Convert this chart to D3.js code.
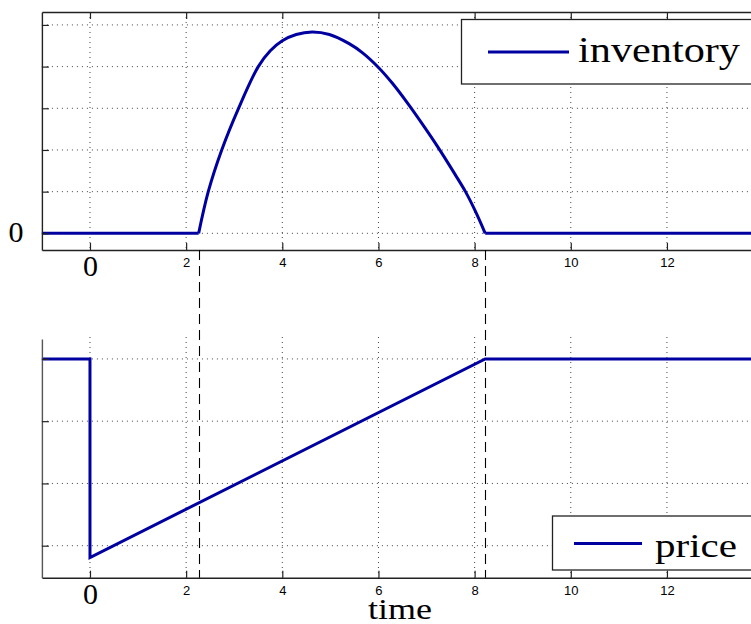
<!DOCTYPE html>
<html>
<head>
<meta charset="utf-8">
<script src="https://cdn.jsdelivr.net/npm/d3@7"></script>
<style>
  body { margin: 0; background: #fff; overflow: hidden; }
  svg { display: block; }
</style>
</head>
<body>
<div id="chart-area"></div>
<script>
// data
const invTime  = [2.26, 2.46, 2.74, 3.09, 3.50, 3.75, 4.0, 4.29, 4.62, 4.98, 5.39, 5.67, 6.0, 6.29, 6.62, 6.95, 7.23, 7.59, 7.81, 8.02, 8.22];
const invValue = [0, 1.0, 2.0, 3.0, 4.0, 4.38, 4.62, 4.77, 4.83, 4.77, 4.55, 4.33, 3.98, 3.60, 3.10, 2.56, 2.08, 1.42, 1.0, 0.52, 0];
const invFlatTime  = [-1, 2.26, 8.22, 14];
const invFlatValue = [0, 0, 0, 0];
const priceTime  = [-1, 0, 0, 8.22, 14];
const priceValue = [4, 4, 0.81, 4, 4];
const switchTimes = [2.26, 8.22];
const xTicks = [0, 2, 4, 6, 8, 10, 12];
const invTicks = [0, 1, 2, 3, 4, 5];
const priceTicks = [1, 2, 3, 4];
const seriesNames = ["inventory", "price"];

const W = 751, H = 624;
const blue = "#0000a0", ink = "#222";

const svg = d3.select("#chart-area")
  .append("svg")
    .attr("width", W)
    .attr("height", H);

const x = d3.scaleLinear().domain([-1, 14]).range([41.9, 763.1]);
const yInv = d3.scaleLinear().domain([-0.4, 5.31]).range([250, 12]);
const yPrice = d3.scaleLinear().domain([0.486, 4.32]).range([577.7, 339]);

function grid(g, y, yTicks, y0, y1) {
  g.selectAll(".gx").data(xTicks).enter().append("line")
    .attr("x1", d => x(d)).attr("x2", d => x(d))
    .attr("y1", y0).attr("y2", y1)
    .attr("stroke", "#444").attr("stroke-width", 1)
    .attr("stroke-dasharray", "1,4");
  g.selectAll(".gy").data(yTicks).enter().append("line")
    .attr("x1", x.range()[0]).attr("x2", x.range()[1])
    .attr("y1", d => y(d)).attr("y2", d => y(d))
    .attr("stroke", "#444").attr("stroke-width", 1)
    .attr("stroke-dasharray", "1,4");
}

function styleAxis(g) {
  g.selectAll("path.domain").attr("stroke", ink).attr("stroke-width", 1.4);
  g.selectAll(".tick line").attr("stroke", ink).attr("stroke-width", 1.2);
}

function xAxisBottom(yPos) {
  const g = svg.append("g")
    .attr("transform", `translate(0,${yPos})`)
    .call(d3.axisBottom(x).tickValues(xTicks).tickSizeInner(-7).tickSizeOuter(0).tickPadding(8));
  styleAxis(g);
  g.selectAll(".tick text")
    .attr("font-family", "'Liberation Sans', Arial, sans-serif")
    .attr("font-size", 13)
    .attr("fill", "#000")
    .attr("dy", "0.71em");
  // the zero label is set in the big serif face
  g.selectAll(".tick text").filter(d => d === 0)
    .attr("font-family", "'Liberation Serif', 'DejaVu Serif', serif")
    .attr("font-size", 30)
    .attr("dy", "0.66em")
    .attr("y", 6);
  return g;
}

// ---- top panel: inventory
const topPanel = svg.append("g");
grid(topPanel, yInv, invTicks, 12, 250);

const lineInv = d3.line().x((d, i) => x(invTime[i])).y(d => yInv(d)).curve(d3.curveCatmullRom.alpha(0.5));
topPanel.append("path").datum([invFlatValue[0], invFlatValue[1]])
  .attr("d", d3.line().x((d, i) => x(invFlatTime[i])).y(d => yInv(d)))
  .attr("fill", "none").attr("stroke", blue).attr("stroke-width", 3);
topPanel.append("path").datum([invFlatValue[2], invFlatValue[3]])
  .attr("d", d3.line().x((d, i) => x(invFlatTime[i + 2])).y(d => yInv(d)))
  .attr("fill", "none").attr("stroke", blue).attr("stroke-width", 3);
topPanel.append("path").datum(invValue)
  .attr("d", lineInv)
  .attr("fill", "none").attr("stroke", blue).attr("stroke-width", 3)
  .attr("stroke-linejoin", "round");

// box: top and bottom axes, left axis
const gTop = svg.append("g").attr("transform", "translate(0,12)")
  .call(d3.axisBottom(x).tickValues(xTicks).tickSizeInner(7).tickSizeOuter(0).tickFormat(""));
styleAxis(gTop);
xAxisBottom(250);
const gL1 = svg.append("g").attr("transform", `translate(${x(-1)},0)`)
  .call(d3.axisRight(yInv).tickValues(invTicks).tickSizeInner(7).tickSizeOuter(0).tickFormat(""));
styleAxis(gL1);
svg.append("text")
  .attr("x", 16).attr("y", 242)
  .attr("text-anchor", "middle")
  .attr("font-family", "'Liberation Serif', 'DejaVu Serif', serif")
  .attr("font-size", 30)
  .text("0");

// legend top
svg.append("rect").attr("x", 461.5).attr("y", 19.5).attr("width", 300).attr("height", 64.5)
  .attr("fill", "#fff").attr("stroke", ink).attr("stroke-width", 1.3);
svg.append("line").attr("x1", 488).attr("x2", 569).attr("y1", 52).attr("y2", 52)
  .attr("stroke", blue).attr("stroke-width", 3);
svg.append("text").attr("x", 578).attr("y", 61.5)
  .attr("font-family", "'Liberation Serif', 'DejaVu Serif', serif")
  .attr("font-size", 35)
  .attr("textLength", 162).attr("lengthAdjust", "spacingAndGlyphs")
  .text(seriesNames[0]);

// ---- bottom panel: price
const botPanel = svg.append("g");
grid(botPanel, yPrice, priceTicks, 337, 577.7);

botPanel.append("path").datum(priceValue)
  .attr("d", d3.line().x((d, i) => x(priceTime[i])).y(d => yPrice(d)))
  .attr("fill", "none").attr("stroke", blue).attr("stroke-width", 3)
  .attr("stroke-linejoin", "miter");

xAxisBottom(577.7);
const gL2 = svg.append("g").attr("transform", `translate(${x(-1)},0)`)
  .call(d3.axisRight(yPrice).tickValues(priceTicks).tickSizeInner(7).tickSizeOuter(0).tickFormat(""));
styleAxis(gL2);
gL2.select("path.domain").attr("stroke", "#555");

// dashed switch lines across both panels
svg.selectAll(".switch").data(switchTimes).enter().append("line")
  .attr("x1", d => Math.round(x(d)) + 0.5).attr("x2", d => Math.round(x(d)) + 0.5)
  .attr("y1", 250).attr("y2", 577.7)
  .attr("stroke", "#000").attr("stroke-width", 1.1)
  .attr("stroke-dasharray", "10,6");

// legend bottom
svg.append("rect").attr("x", 552.5).attr("y", 516).attr("width", 210).attr("height", 54)
  .attr("fill", "#fff").attr("stroke", ink).attr("stroke-width", 1.3);
svg.append("line").attr("x1", 574).attr("x2", 642).attr("y1", 543.5).attr("y2", 543.5)
  .attr("stroke", blue).attr("stroke-width", 3);
svg.append("text").attr("x", 655).attr("y", 556.5)
  .attr("font-family", "'Liberation Serif', 'DejaVu Serif', serif")
  .attr("font-size", 34)
  .attr("textLength", 82).attr("lengthAdjust", "spacingAndGlyphs")
  .text(seriesNames[1]);

// x label
svg.append("text").attr("x", 400).attr("y", 619)
  .attr("text-anchor", "middle")
  .attr("font-family", "'Liberation Serif', 'DejaVu Serif', serif")
  .attr("font-size", 29)
  .attr("textLength", 64).attr("lengthAdjust", "spacingAndGlyphs")
  .text("time");
</script>
</body>
</html>
